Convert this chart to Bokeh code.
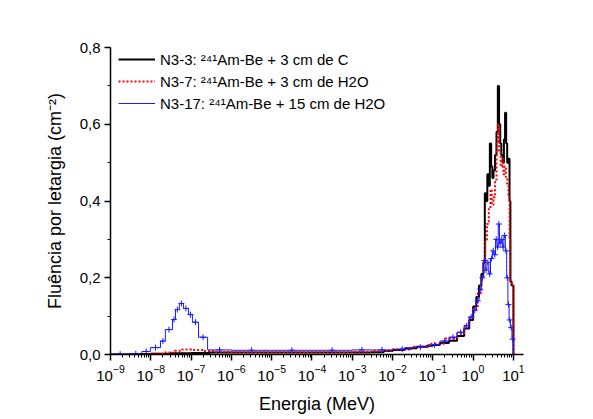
import numpy as np
from bokeh.plotting import figure
from bokeh.models import (Range1d, FixedTicker, CustomJSTickFormatter, Legend,
                          LegendItem)
from bokeh.embed import file_html
from bokeh.resources import INLINE

# ---------------- data (energy bin edges in MeV, fluence per lethargy) ----------------
black_E = [1e-9, 3e-9, 1e-8, 3e-8, 1e-7, 3e-7, 1e-6, 1e-5, 1e-4, 1e-3, 3e-3, 6e-3,
           1e-2, 0.02, 0.04, 0.07, 0.1, 0.15, 0.25, 0.4, 0.6, 0.8, 1.0, 1.2, 1.4,
           1.6, 1.8, 1.95, 2.1, 2.25, 2.45, 2.6, 2.8, 3.0, 3.2, 3.5, 3.8, 4.1, 4.4,
           4.7, 5.0, 5.4, 5.8, 6.2, 6.6, 7.0, 7.5, 8.0, 8.4, 9.0, 10.0]
black_F = [0.0, 0.001, 0.002, 0.003, 0.004, 0.005, 0.005, 0.005, 0.005, 0.005, 0.006, 0.009,
           0.012, 0.016, 0.020, 0.023, 0.025, 0.030, 0.036, 0.048, 0.068, 0.090, 0.125, 0.150, 0.180,
           0.210, 0.240, 0.420, 0.400, 0.470, 0.440, 0.550, 0.490, 0.460, 0.480, 0.520, 0.580, 0.700, 0.600,
           0.550, 0.520, 0.500, 0.560, 0.630, 0.550, 0.500, 0.510, 0.400, 0.190, 0.180, 0.0]

red_E = [1e-9, 1e-8, 2e-8, 4e-8, 6e-8, 1e-7, 2e-7, 4e-7, 1e-6, 1e-5, 1e-4, 1e-3, 3e-3,
         1e-2, 0.03, 0.08, 0.2, 0.4, 0.6, 0.8, 1.0, 1.3, 1.6, 1.8, 2.0, 2.2, 2.45, 2.7,
         2.9, 3.2, 3.5, 3.8, 4.1, 4.4, 4.8, 5.2, 5.6, 6.0, 6.5, 7.0, 7.5, 8.0, 8.4, 9.0, 10.0]
red_F = [0.0, 0.002, 0.005, 0.010, 0.013, 0.012, 0.009, 0.007, 0.006, 0.006, 0.006, 0.007, 0.009,
         0.013, 0.020, 0.028, 0.042, 0.055, 0.075, 0.095, 0.120, 0.160, 0.200, 0.240, 0.300, 0.340, 0.380, 0.430,
         0.390, 0.410, 0.450, 0.550, 0.600, 0.530, 0.490, 0.510, 0.470, 0.490, 0.460, 0.440, 0.410, 0.300, 0.190, 0.180, 0.0]

blue_E = [1e-9, 3e-9, 6e-9, 9.8e-9, 1.74e-8, 2.3e-8, 3.45e-8, 4.1e-8, 5.1e-8, 6.45e-8, 8.6e-8,
          1.08e-7, 1.53e-7, 2.57e-7, 1e-6, 1e-5, 1e-4, 1e-3, 3e-3, 1e-2, 0.03, 0.08, 0.15, 0.25,
          0.4, 0.6, 0.8, 1.0, 1.2, 1.4, 1.6, 1.8, 2.0, 2.2, 2.45, 2.7, 3.0, 3.3, 3.6, 3.9, 4.2,
          4.5, 4.9, 5.3, 5.8, 6.3, 6.8, 7.3, 7.8, 8.4, 9.2, 10.0]
blue_F = [0.001, 0.002, 0.008, 0.018, 0.035, 0.065, 0.091, 0.117, 0.133, 0.120, 0.104,
          0.084, 0.045, 0.012, 0.011, 0.011, 0.011, 0.012, 0.012, 0.014, 0.019, 0.025, 0.035, 0.045,
          0.058, 0.075, 0.098, 0.115, 0.140, 0.170, 0.200, 0.245, 0.220, 0.240, 0.210, 0.250, 0.270, 0.260, 0.300, 0.280, 0.340,
          0.290, 0.300, 0.280, 0.310, 0.270, 0.200, 0.130, 0.090, 0.070, 0.040, 0.0]

series_labels = ["N3-3: \u00b2\u2074\u00b9Am-Be + 3 cm de C",
                 "N3-7: \u00b2\u2074\u00b9Am-Be + 3 cm de H2O",
                 "N3-17: \u00b2\u2074\u00b9Am-Be + 15 cm de H2O"]

x_tick_values = [10.0 ** k for k in range(-9, 2)]
y_tick_values = [0.0, 0.2, 0.4, 0.6, 0.8]
y_minor_values = [0.1, 0.3, 0.5, 0.7]

x_title = "Energia (MeV)"
y_title = "Flu\u00eancia por letargia (cm\u207b\u00b2)"

# ---------------- figure ----------------
FONT = "Liberation Sans"
p = figure(width=577, height=416, x_axis_type="log", output_backend="svg",
           toolbar_location=None, x_range=Range1d(1e-9, 10 ** 1.25),
           y_range=Range1d(0, 0.8),
           min_border_left=110, min_border_right=54, min_border_top=47,
           min_border_bottom=62)
p.outline_line_color = None
p.grid.visible = False
p.background_fill_color = "white"
p.border_fill_color = "white"

r_black = p.step(black_E, black_F, mode="after", line_color="black", line_width=2)
r_red = p.step(red_E, red_F, mode="after", line_color="#ff0000", line_width=2,
               line_dash="2 2")
r_blue = p.step(blue_E, blue_F, mode="after", line_color="#1a1aff", line_width=1)

# error-bar-like crosses at blue bin centres
bE = np.array(blue_E)
bF = np.array(blue_F)
mid = np.sqrt(bE[:-1] * bE[1:])
p.scatter(mid, bF[:-1], marker="cross", size=6, line_color="#1a1aff", line_width=1)

# axes
for ax in (p.xaxis[0], p.yaxis[0]):
    ax.axis_line_width = 1.5
    ax.major_tick_line_width = 1.5
    ax.minor_tick_line_width = 1
    ax.major_tick_in = 0
    ax.major_tick_out = 6
    ax.minor_tick_in = 0
    ax.minor_tick_out = 3
    ax.major_label_text_font = FONT
    ax.major_label_text_font_size = "15px"
    ax.major_label_text_color = "black"
    ax.axis_label_text_font = FONT
    ax.axis_label_text_font_size = "18px"
    ax.axis_label_text_font_style = "normal"
    ax.axis_label_text_color = "black"

minor_x = [m * 10.0 ** k for k in range(-9, 2) for m in range(2, 10)]
p.xaxis.ticker = FixedTicker(ticks=x_tick_values, minor_ticks=minor_x)
p.xaxis.axis_label = x_title
p.xaxis.major_label_standoff = 4
p.xaxis.axis_label_standoff = 10

p.yaxis.ticker = FixedTicker(ticks=y_tick_values, minor_ticks=y_minor_values)
p.yaxis.formatter = CustomJSTickFormatter(code="return tick.toFixed(1).replace('.', ',');")
p.yaxis.axis_label = y_title
p.yaxis.major_label_standoff = 4
p.yaxis.axis_label_standoff = 12

legend = Legend(items=[LegendItem(label=series_labels[0], renderers=[r_black]),
                       LegendItem(label=series_labels[1], renderers=[r_red]),
                       LegendItem(label=series_labels[2], renderers=[r_blue])],
                location=(8, 240), padding=0, margin=0, spacing=0,
                glyph_width=37, glyph_height=22, label_height=22, label_standoff=5,
                label_text_font=FONT, label_text_font_size="15px",
                label_text_color="black",
                background_fill_alpha=0, border_line_alpha=0)
p.add_layout(legend)

open("out.html", "w").write(file_html(p, INLINE))
